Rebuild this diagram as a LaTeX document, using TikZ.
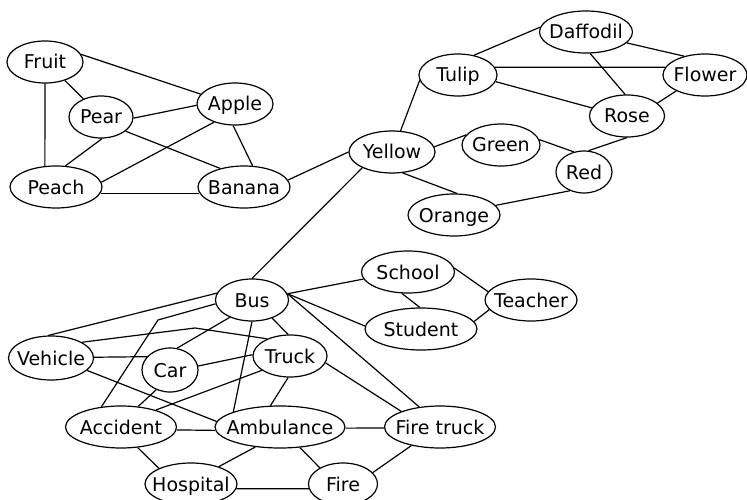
\documentclass[tikz,border=0pt]{standalone}
\usepackage{fontspec}
\setmainfont{DejaVu Sans}
\usetikzlibrary{shapes.geometric}

\begin{document}
\begin{tikzpicture}[x=1pt, y=-1pt, line width=1.2pt,
			word/.style={draw, ellipse, inner sep=0pt, minimum height=42pt, minimum width=#1pt, text height=14pt, text depth=0pt, font=\fontsize{19}{21}\selectfont}]
				\useasboundingbox (0,0) rectangle (747,500);
				\node[word=76] (fruit) at (45,62) {\makebox[0pt]{Fruit}};
				\node[word=64] (pear) at (101,117) {\makebox[0pt]{Pear}};
				\node[word=76] (apple) at (235,104) {\makebox[0pt]{Apple}};
				\node[word=92] (peach) at (56,187) {\makebox[0pt]{Peach}};
				\node[word=92] (banana) at (244,187) {\makebox[0pt]{Banana}};
				
				\node[word=93] (daffodil) at (586,32) {\makebox[0pt]{Daffodil}};
				\node[word=78] (tulip) at (458,75) {\makebox[0pt]{Tulip}};
				\node[word=84] (flower) at (705,75) {\makebox[0pt]{Flower}};
				\node[word=75] (rose) at (627,116) {\makebox[0pt]{Rose}};
				\node[word=86] (yellow) at (392,152) {\makebox[0pt]{Yellow}};
				\node[word=78] (green) at (501,145) {\makebox[0pt]{Green}};
				\node[word=56] (red) at (584,172) {\makebox[0pt]{Red}};
				\node[word=92] (orange) at (454,215) {\makebox[0pt]{Orange}};
				
				\node[word=73] (bus) at (252,300) {\makebox[0pt]{Bus}};
				\node[word=93] (school) at (408,272) {\makebox[0pt]{School}};
				\node[word=112] (student) at (421,329) {\makebox[0pt]{Student}};
				\node[word=92] (teacher) at (531,300) {\makebox[0pt]{Teacher}};
				\node[word=85, minimum height=44pt] (vehicle) at (51,358) {\makebox[0pt]{Vehicle}};
				\node[word=56, minimum height=44pt] (car) at (170,370) {\makebox[0pt]{Car}};
				\node[word=74] (truck) at (290,356) {\makebox[0pt]{Truck}};
				\node[word=111] (accident) at (121,427) {\makebox[0pt]{Accident}};
				\node[word=130] (ambulance) at (280,427) {\makebox[0pt]{Ambulance}};
				\node[word=111] (firetruck) at (440,427) {\makebox[0pt]{Fire truck}};
				\node[word=92] (hospital) at (191,484) {\makebox[0pt]{Hospital}};
				\node[word=69] (fire) at (343,484) {\makebox[0pt]{Fire}};
				
				\coordinate (bendab) at (158,320);
				\coordinate (bendvt) at (195,328);
				
				\draw (fruit.12) -- (apple.164);
				\draw (fruit.-43) -- (pear.134);
				\draw (fruit.-90) -- (peach.118);
				\draw (pear.-2) -- (apple.182);
				\draw (pear.-87) -- (peach.66);
				\draw (pear.-30) -- (banana.142);
				\draw (apple.221) -- (peach.6);
				\draw (apple.265) -- (banana.68);
				\draw (peach.-8) -- (banana.188);
				\draw (banana.9) -- (yellow.180);
				
				\draw (yellow.68) -- (tulip.188);
				\draw (yellow.7) -- (green.164);
				\draw (yellow.-63) -- (orange.82);
				\draw (yellow.208) -- (bus.90);
				\draw (tulip.51) -- (daffodil.174);
				\draw (tulip.12) -- (flower.169);
				\draw (tulip.-10) -- (rose.167);
				\draw (daffodil.-15) -- (flower.138);
				\draw (daffodil.-79) -- (rose.95);
				\draw (rose.23) -- (flower.209);
				\draw (rose.-90) -- (red.78);
				\draw (green.8) -- (red.117);
				\draw (orange.13) -- (red.233);
				
				\draw (bus.10) -- (school.189);
				\draw (bus.10) -- (student.177);
				\draw (bus.10) -- (firetruck.136);
				\draw (school.254) -- (student.93);
				\draw (school.5) -- (teacher.169);
				\draw (student.8) -- (teacher.193);
				\draw (vehicle.97) -- (bus.169);
				\draw (bus.186) -- (bendab) -- (accident.134);
				\draw (vehicle.27) -- (bendvt) -- (truck.143);
				\draw (vehicle.1) -- (car.150);
				\draw (vehicle.-19) -- (ambulance.175);
				\draw (bus.218) -- (car.72);
				\draw (bus.-90) -- (ambulance.162);
				\draw (bus.-42) -- (truck.95);
				\draw (car.8) -- (truck.178);
				\draw (car.235) -- (accident.50);
				\draw (truck.207) -- (accident.26);
				\draw (truck.265) -- (ambulance.114);
				\draw (truck.-11) -- (firetruck.158);
				\draw (accident.-3) -- (ambulance.183);
				\draw (accident.-51) -- (hospital.154);
				\draw (ambulance.-1) -- (firetruck.181);
				\draw (ambulance.219) -- (hospital.32);
				\draw (ambulance.-46) -- (fire.145);
				\draw (hospital.-6) -- (fire.188);
				\draw (fire.21) -- (firetruck.213);
			\end{tikzpicture}
\end{document}
